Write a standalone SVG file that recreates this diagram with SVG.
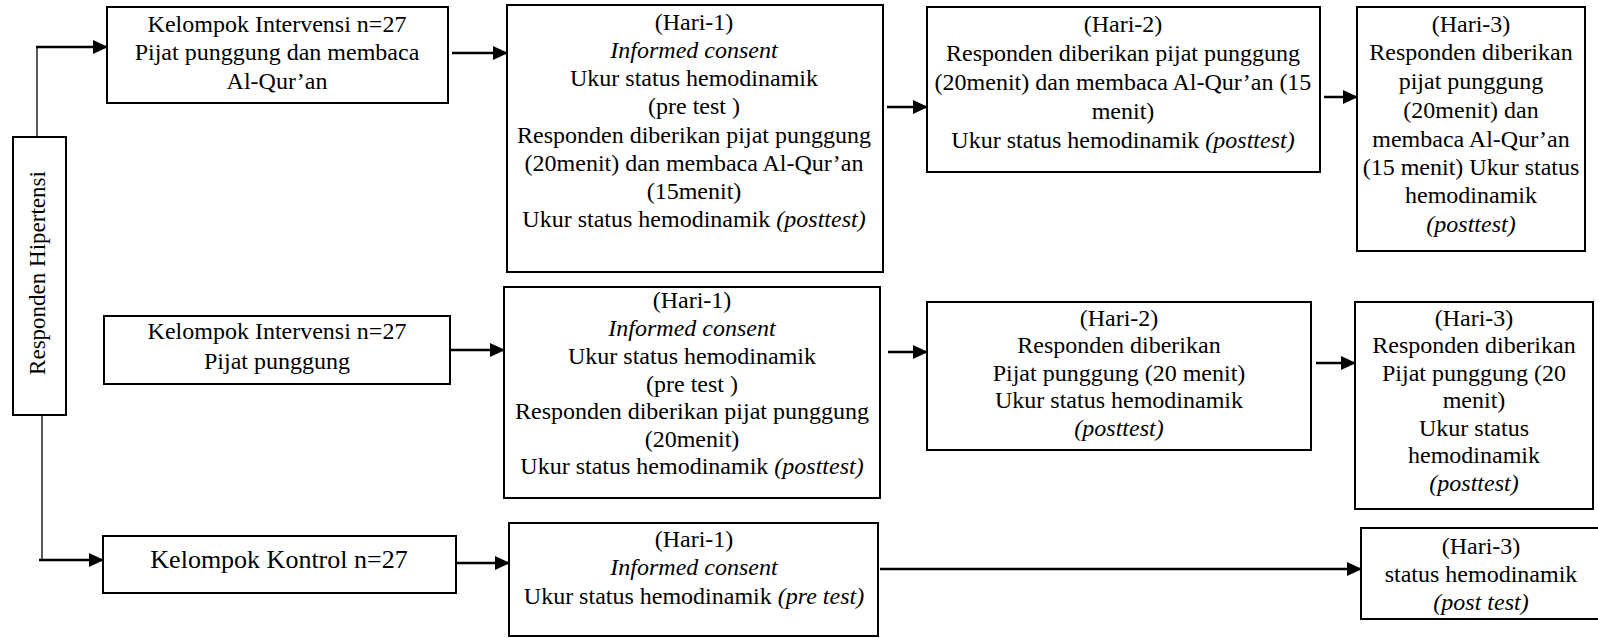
<svg xmlns="http://www.w3.org/2000/svg" width="1598" height="638" viewBox="0 0 1598 638">
<style>
  .box { fill: #ffffff; stroke: #000000; stroke-width: 2; }
  .t { font-family: "Liberation Serif", "Times New Roman", serif; font-size: 24px; fill: #000000; text-anchor: middle; }
  .i { font-style: italic; }
  .con { fill: none; stroke: #000000; stroke-width: 2.5; }
  .thin { fill: none; stroke: #000000; stroke-width: 1.3; }
</style>
<defs>
  <marker id="ah" markerUnits="userSpaceOnUse" markerWidth="15" markerHeight="14" refX="14" refY="7" orient="auto">
    <path d="M0,0 L15,7 L0,14 Z" fill="#000000"/>
  </marker>
</defs>

<g id="connectors">
  <line class="thin" x1="37" y1="137" x2="37" y2="47"/>
  <line class="con" x1="36" y1="47" x2="107" y2="47" marker-end="url(#ah)"/>
  <line class="thin" x1="42" y1="415" x2="42" y2="560"/>
  <line class="con" x1="39" y1="560" x2="103" y2="560" marker-end="url(#ah)"/>
  <line class="con" x1="452" y1="53" x2="507" y2="53" marker-end="url(#ah)"/>
  <line class="con" x1="887" y1="107" x2="927" y2="107" marker-end="url(#ah)"/>
  <line class="con" x1="1324" y1="97" x2="1357" y2="97" marker-end="url(#ah)"/>
  <line class="con" x1="450" y1="350" x2="504" y2="350" marker-end="url(#ah)"/>
  <line class="con" x1="888" y1="352" x2="927" y2="352" marker-end="url(#ah)"/>
  <line class="con" x1="1316" y1="363" x2="1355" y2="363" marker-end="url(#ah)"/>
  <line class="con" x1="456" y1="563" x2="509" y2="563" marker-end="url(#ah)"/>
  <line class="con" x1="880" y1="569" x2="1361" y2="569" marker-end="url(#ah)"/>
</g>

<g id="responden">
  <rect class="box" x="13" y="137" width="53" height="278"/>
  <text class="t" style="font-size:23px" transform="translate(45,273) rotate(-90)">Responden Hipertensi</text>
</g>

<g id="kelompok-quran">
  <rect class="box" x="107" y="7" width="341" height="96"/>
  <text class="t" x="277" y="32">Kelompok Intervensi n=27</text>
  <text class="t" x="277" y="60">Pijat punggung dan membaca</text>
  <text class="t" x="277" y="89">Al-Qur’an</text>
</g>

<g id="kelompok-pijat">
  <rect class="box" x="104" y="316" width="346" height="68"/>
  <text class="t" x="277" y="339">Kelompok Intervensi n=27</text>
  <text class="t" x="277" y="369">Pijat punggung</text>
</g>

<g id="kelompok-kontrol">
  <rect class="box" x="103" y="536" width="353" height="57"/>
  <text class="t" style="font-size:26px" x="279" y="568">Kelompok Kontrol n=27</text>
</g>

<g id="hari1-quran">
  <rect class="box" x="507" y="5" width="376" height="267"/>
  <text class="t" x="694" y="30">(Hari-1)</text>
  <text class="t i" x="694" y="58">Informed consent</text>
  <text class="t" x="694" y="86">Ukur status hemodinamik</text>
  <text class="t" x="694" y="114">(pre test )</text>
  <text class="t" x="694" y="143">Responden diberikan pijat punggung</text>
  <text class="t" x="694" y="171">(20menit) dan membaca Al-Qur’an</text>
  <text class="t" x="694" y="199">(15menit)</text>
  <text class="t" x="694" y="227">Ukur status hemodinamik <tspan class="i">(posttest)</tspan></text>
</g>

<g id="hari2-quran">
  <rect class="box" x="927" y="7" width="393" height="165"/>
  <text class="t" x="1123" y="32">(Hari-2)</text>
  <text class="t" x="1123" y="61">Responden diberikan pijat punggung</text>
  <text class="t" x="1123" y="90">(20menit) dan membaca Al-Qur’an (15</text>
  <text class="t" x="1123" y="119">menit)</text>
  <text class="t" x="1123" y="148">Ukur status hemodinamik <tspan class="i">(posttest)</tspan></text>
</g>

<g id="hari3-quran">
  <rect class="box" x="1357" y="7" width="228" height="244"/>
  <text class="t" x="1471" y="32">(Hari-3)</text>
  <text class="t" x="1471" y="60">Responden diberikan</text>
  <text class="t" x="1471" y="89">pijat punggung</text>
  <text class="t" x="1471" y="118">(20menit) dan</text>
  <text class="t" x="1471" y="147">membaca Al-Qur’an</text>
  <text class="t" x="1471" y="175">(15 menit) Ukur status</text>
  <text class="t" x="1471" y="203">hemodinamik</text>
  <text class="t i" x="1471" y="232">(posttest)</text>
</g>

<g id="hari1-pijat">
  <rect class="box" x="504" y="287" width="376" height="211"/>
  <text class="t" x="692" y="308">(Hari-1)</text>
  <text class="t i" x="692" y="336">Informed consent</text>
  <text class="t" x="692" y="364">Ukur status hemodinamik</text>
  <text class="t" x="692" y="392">(pre test )</text>
  <text class="t" x="692" y="419">Responden diberikan pijat punggung</text>
  <text class="t" x="692" y="447">(20menit)</text>
  <text class="t" x="692" y="474">Ukur status hemodinamik <tspan class="i">(posttest)</tspan></text>
</g>

<g id="hari2-pijat">
  <rect class="box" x="927" y="302" width="384" height="148"/>
  <text class="t" x="1119" y="326">(Hari-2)</text>
  <text class="t" x="1119" y="353">Responden diberikan</text>
  <text class="t" x="1119" y="381">Pijat punggung (20 menit)</text>
  <text class="t" x="1119" y="408">Ukur status hemodinamik</text>
  <text class="t i" x="1119" y="436">(posttest)</text>
</g>

<g id="hari3-pijat">
  <rect class="box" x="1355" y="302" width="238" height="207"/>
  <text class="t" x="1474" y="326">(Hari-3)</text>
  <text class="t" x="1474" y="353">Responden diberikan</text>
  <text class="t" x="1474" y="381">Pijat punggung (20</text>
  <text class="t" x="1474" y="408">menit)</text>
  <text class="t" x="1474" y="436">Ukur status</text>
  <text class="t" x="1474" y="463">hemodinamik</text>
  <text class="t i" x="1474" y="491">(posttest)</text>
</g>

<g id="hari1-kontrol">
  <rect class="box" x="509" y="523" width="369" height="113"/>
  <text class="t" x="694" y="547">(Hari-1)</text>
  <text class="t i" x="694" y="575">Informed consent</text>
  <text class="t" x="694" y="604">Ukur status hemodinamik <tspan class="i">(pre test)</tspan></text>
</g>

<g id="hari3-kontrol">
  <rect class="box" x="1361" y="528" width="240" height="91"/>
  <text class="t" x="1481" y="554">(Hari-3)</text>
  <text class="t" x="1481" y="582">status hemodinamik</text>
  <text class="t i" x="1481" y="610">(post test)</text>
</g>
</svg>
